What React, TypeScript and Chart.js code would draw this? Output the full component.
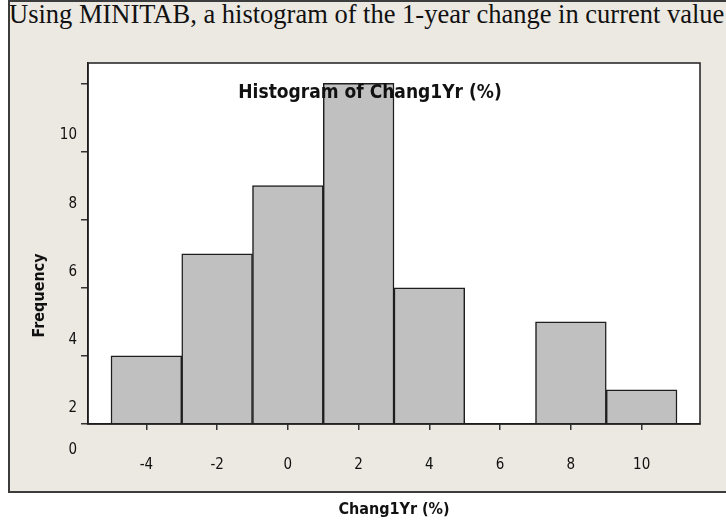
import React, { useEffect, useRef } from "react";
import { Chart, registerables } from "chart.js";

Chart.register(...registerables);

// ---- data ----
const binCenters = [-4, -2, 0, 2, 4, 6, 8, 10];
const frequencies = [2, 5, 7, 10, 4, 0, 3, 1];
const xTickValues = [-4, -2, 0, 2, 4, 6, 8, 10];
const yTickValues = [0, 2, 4, 6, 8, 10];
// labels as printed in the picture next to each y tick mark (they sit offset)
const yTickLabels = ["2", "4", "6", "8", "10", ""];
const yBaseLabel = "0";
const chartTitle = "Histogram of Chang1Yr (%)";
const xTitle = "Chang1Yr (%)";
const yTitle = "Frequency";
const headerText = "Using MINITAB, a histogram of the 1-year change in current value";

const FONT = "'DejaVu Sans Condensed', 'DejaVu Sans', sans-serif";

const decorPlugin = {
  id: "decor",
  beforeDraw(chart: any) {
    const { ctx, chartArea } = chart;
    ctx.save();
    ctx.fillStyle = "#ffffff";
    ctx.fillRect(chartArea.left, chartArea.top, chartArea.right - chartArea.left, chartArea.bottom - chartArea.top);
    ctx.restore();
  },
  afterDatasetsDraw(chart: any) {
    const { ctx, chartArea, scales } = chart;
    ctx.save();
    // plot frame
    ctx.strokeStyle = "#1e1e1e";
    ctx.lineWidth = 1.5;
    ctx.strokeRect(chartArea.left, chartArea.top, chartArea.right - chartArea.left, chartArea.bottom - chartArea.top);
    // title inside plot (drawn over bars)
    ctx.fillStyle = "#111";
    ctx.font = `bold 19px ${FONT}`;
    ctx.textAlign = "center";
    ctx.textBaseline = "alphabetic";
    ctx.fillText(chartTitle, (chartArea.left + chartArea.right) / 2 - 24, chartArea.top + 35);
    // extra "0" label below the baseline
    ctx.font = `15px ${FONT}`;
    ctx.textAlign = "right";
    ctx.textBaseline = "middle";
    ctx.fillText(yBaseLabel, chartArea.left - 11, scales.y.getPixelForValue(0) + 26);
    // y axis title
    ctx.font = `bold 16px ${FONT}`;
    ctx.textAlign = "center";
    ctx.textBaseline = "middle";
    ctx.translate(40, (chartArea.top + chartArea.bottom) / 2 + 52);
    ctx.rotate(-Math.PI / 2);
    ctx.fillText(yTitle, 0, 0);
    ctx.restore();
  },
};

export default function App() {
  const ref = useRef<HTMLCanvasElement | null>(null);

  useEffect(() => {
    if (!ref.current) return;
    const chart = new Chart(ref.current, {
      type: "bar",
      data: {
        datasets: [
          {
            data: binCenters.map((x, i) => ({ x, y: frequencies[i] })),
            backgroundColor: "#c0c0c0",
            borderColor: "#1e1e1e",
            borderWidth: 1.5,
            barPercentage: 1,
            categoryPercentage: 1,
          } as any,
        ],
      },
      options: {
        animation: false,
        responsive: false,
        maintainAspectRatio: false,
        layout: { padding: { left: 8, top: 63, right: 26, bottom: 0 } },
        plugins: { legend: { display: false }, tooltip: { enabled: false } },
        scales: {
          x: {
            type: "linear",
            min: -5.65,
            max: 11.65,
            offset: false,
            afterBuildTicks: (s: any) => {
              s.ticks = xTickValues.map((v) => ({ value: v }));
            },
            afterFit: (s: any) => {
              s.height = 97;
            },
            grid: { display: true, drawOnChartArea: false, drawTicks: true, tickLength: 6, color: "#333", lineWidth: 1.5, offset: false },
            border: { display: true, color: "#1e1e1e", width: 1.5 },
            ticks: {
              font: { family: FONT, size: 15 },
              color: "#111",
              padding: 26,
              maxRotation: 0,
              autoSkip: false,
              callback: (v: any) => String(v),
            },
            title: {
              display: true,
              text: xTitle,
              color: "#111",
              font: { family: FONT, size: 16, weight: "bold" },
              padding: { top: 0, bottom: 2 },
            },
          },
          y: {
            type: "linear",
            min: 0,
            max: 10.6,
            afterBuildTicks: (s: any) => {
              s.ticks = yTickValues.map((v) => ({ value: v }));
            },
            afterFit: (s: any) => {
              s.width = 80;
            },
            grid: { display: true, drawOnChartArea: false, drawTicks: true, tickLength: 7, color: "#333", lineWidth: 1.5 },
            border: { display: true, color: "#1e1e1e", width: 1.5 },
            ticks: {
              font: { family: FONT, size: 15 },
              color: "#111",
              padding: 4,
              labelOffset: -16,
              autoSkip: false,
              callback: (_v: any, i: number) => yTickLabels[i],
            },
          },
        },
      } as any,
      plugins: [decorPlugin],
    });
    return () => chart.destroy();
  }, []);

  return (
    <div style={{ position: "absolute", left: 0, top: 0, width: 726, height: 521, overflow: "hidden", background: "#ffffff" }}>
      <div
        style={{
          position: "absolute",
          left: 8,
          top: 0,
          width: 740,
          height: 489,
          border: "2px solid #3c3c3c",
          background: "#ece9e2",
        }}
      />
      <div
        style={{
          position: "absolute",
          left: 9,
          top: 0,
          fontFamily: "'Liberation Serif', 'Times New Roman', serif",
          fontSize: 26.5,
          lineHeight: "28px",
          whiteSpace: "nowrap",
          color: "#111",
        }}
      >
        {headerText}
      </div>
      <canvas ref={ref} width={726} height={521} style={{ position: "absolute", left: 0, top: 0, width: 726, height: 521 }} />
    </div>
  );
}
